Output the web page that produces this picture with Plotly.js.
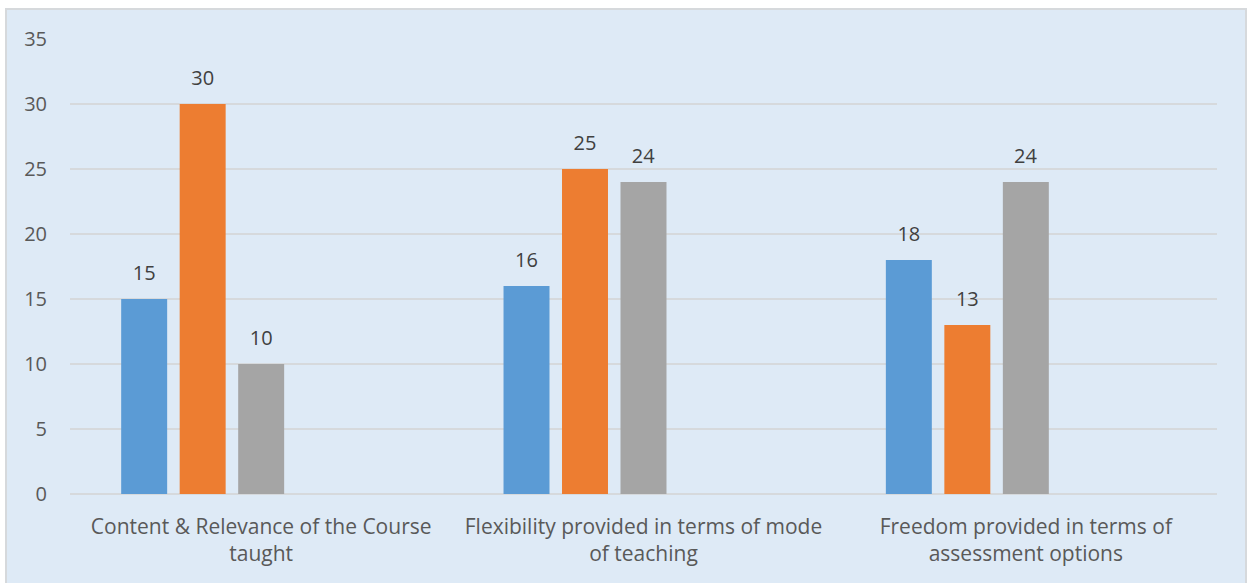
<!DOCTYPE html>
<html>
<head>
<meta charset="utf-8">
<script src="https://cdn.plot.ly/plotly-3.0.1.min.js"></script>
<style>
html,body{margin:0;padding:0;background:#ffffff;overflow:hidden;}
#frame{position:absolute;left:5px;top:8px;width:1242px;height:600px;background:#DEEAF6;border:2px solid #D6D9DC;box-sizing:border-box;}
#chart{position:absolute;left:0;top:0;width:1252px;height:583px;}
</style>
</head>
<body>
<div id="frame"></div>
<div id="chart"></div>
<script>
const categories = [
  "Content & Relevance of the Course<br>taught",
  "Flexibility provided in terms of mode<br>of teaching",
  "Freedom provided in terms of<br>assessment options"
];
const seriesA = [15, 16, 18];
const seriesB = [30, 25, 13];
const seriesC = [10, 24, 24];
const seriesD = [null, null, null];
const seriesE = [null, null, null];
const yTicks = [0, 5, 10, 15, 20, 25, 30, 35];

const colors = ["#5B9BD5", "#ED7D31", "#A5A5A5", "#FFC000", "#4472C4"];
const allSeries = [seriesA, seriesB, seriesC, seriesD, seriesE];

const data = allSeries.map((vals, i) => ({
  type: "bar",
  x: categories,
  y: vals,
  marker: {color: colors[i]},
  text: vals.map(v => v === null ? "" : String(v)),
  texttemplate: "<span style='font-size:20px'>%{text}</span><br> ",
  textposition: "outside",
  constraintext: "none",
  cliponaxis: false,
  textfont: {family: "Open Sans, sans-serif", size: 10, color: "#404040"},
  hoverinfo: "skip",
  showlegend: false
}));

const layout = {
  width: 1252,
  height: 583,
  margin: {l: 70, r: 35, t: 39, b: 89},
  paper_bgcolor: "rgba(0,0,0,0)",
  plot_bgcolor: "rgba(0,0,0,0)",
  barmode: "group",
  bargap: 0.235,
  bargroupgap: 0.214,
  showlegend: false,
  xaxis: {
    type: "category",
    showgrid: false,
    showline: false,
    zeroline: false,
    ticks: "",
    ticklabelstandoff: 18,
    tickfont: {family: "Open Sans, sans-serif", size: 21, color: "#595959"},
    automargin: false
  },
  yaxis: {
    range: [0, 35],
    tickvals: yTicks,
    ticktext: yTicks.map(String),
    showgrid: true,
    gridcolor: "#D6D9DC",
    gridwidth: 2,
    zeroline: true,
    zerolinecolor: "#D6D9DC",
    zerolinewidth: 2,
    showline: false,
    ticks: "",
    ticklabelstandoff: 22,
    tickfont: {family: "Open Sans, sans-serif", size: 20, color: "#595959"},
    automargin: false
  }
};

Plotly.newPlot("chart", data, layout, {displayModeBar: false, staticPlot: true});
</script>
</body>
</html>
